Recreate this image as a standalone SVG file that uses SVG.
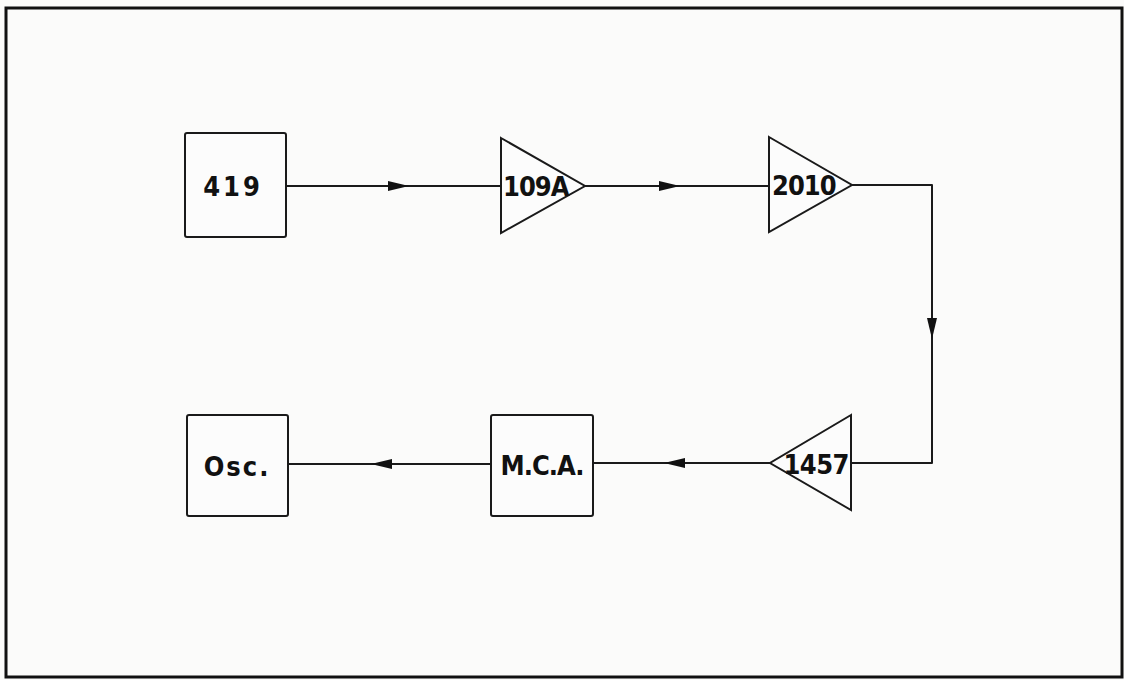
<svg xmlns="http://www.w3.org/2000/svg" width="1124" height="680" viewBox="0 0 1124 680">
<style>
.s{fill:none;stroke:#1a1a1a;stroke-width:2;stroke-linejoin:round}
.b{fill:#fcfcfc;stroke:#1a1a1a;stroke-width:2}
.t{font-family:"DejaVu Sans Condensed","DejaVu Sans",sans-serif;font-weight:bold;font-size:27px;fill:#111}
.a{fill:#111}
</style>
<rect width="1124" height="680" fill="#fbfbfa"/>
<rect x="6" y="8" width="1116" height="669" fill="none" stroke="#111" stroke-width="3"/>
<g id="connectors">
<path class="s" d="M286,186 H501"/>
<path class="a" d="M409,186 L388,181 L388,191 Z"/>
<path class="s" d="M585,186 H769"/>
<path class="a" d="M680,186 L659,181 L659,191 Z"/>
<path class="s" d="M852,185 H932 V463 H851"/>
<path class="a" d="M932,339 L927,318 L937,318 Z"/>
<path class="s" d="M770,463 H592"/>
<path class="a" d="M664,463 L685,458 L685,468 Z"/>
<path class="s" d="M491,464 H288"/>
<path class="a" d="M371,464 L392,459 L392,469 Z"/>
</g>
<g id="n419">
<rect class="b" x="185" y="133" width="101" height="104" rx="2"/>
<text class="t" x="233" y="196" text-anchor="middle" letter-spacing="3">419</text>
</g>
<g id="n109A">
<path class="b" d="M501,138 L585,186 L501,233 Z"/>
<text class="t" x="503" y="196" letter-spacing="-1">109A</text>
</g>
<g id="n2010">
<path class="b" d="M769,137 L852,185 L769,232 Z"/>
<text class="t" x="772" y="195" letter-spacing="-1">2010</text>
</g>
<g id="n1457">
<path class="b" d="M851,415 L770,463 L851,510 Z"/>
<text class="t" x="849" y="474" text-anchor="end" letter-spacing="-0.5">1457</text>
</g>
<g id="nMCA">
<rect class="b" x="491" y="415" width="102" height="101" rx="2"/>
<text class="t" x="542" y="475" text-anchor="middle" letter-spacing="-1">M.C.A.</text>
</g>
<g id="nOsc">
<rect class="b" x="187" y="415" width="101" height="101" rx="2"/>
<text class="t" x="237" y="476" text-anchor="middle" letter-spacing="2">Osc.</text>
</g>
</svg>
